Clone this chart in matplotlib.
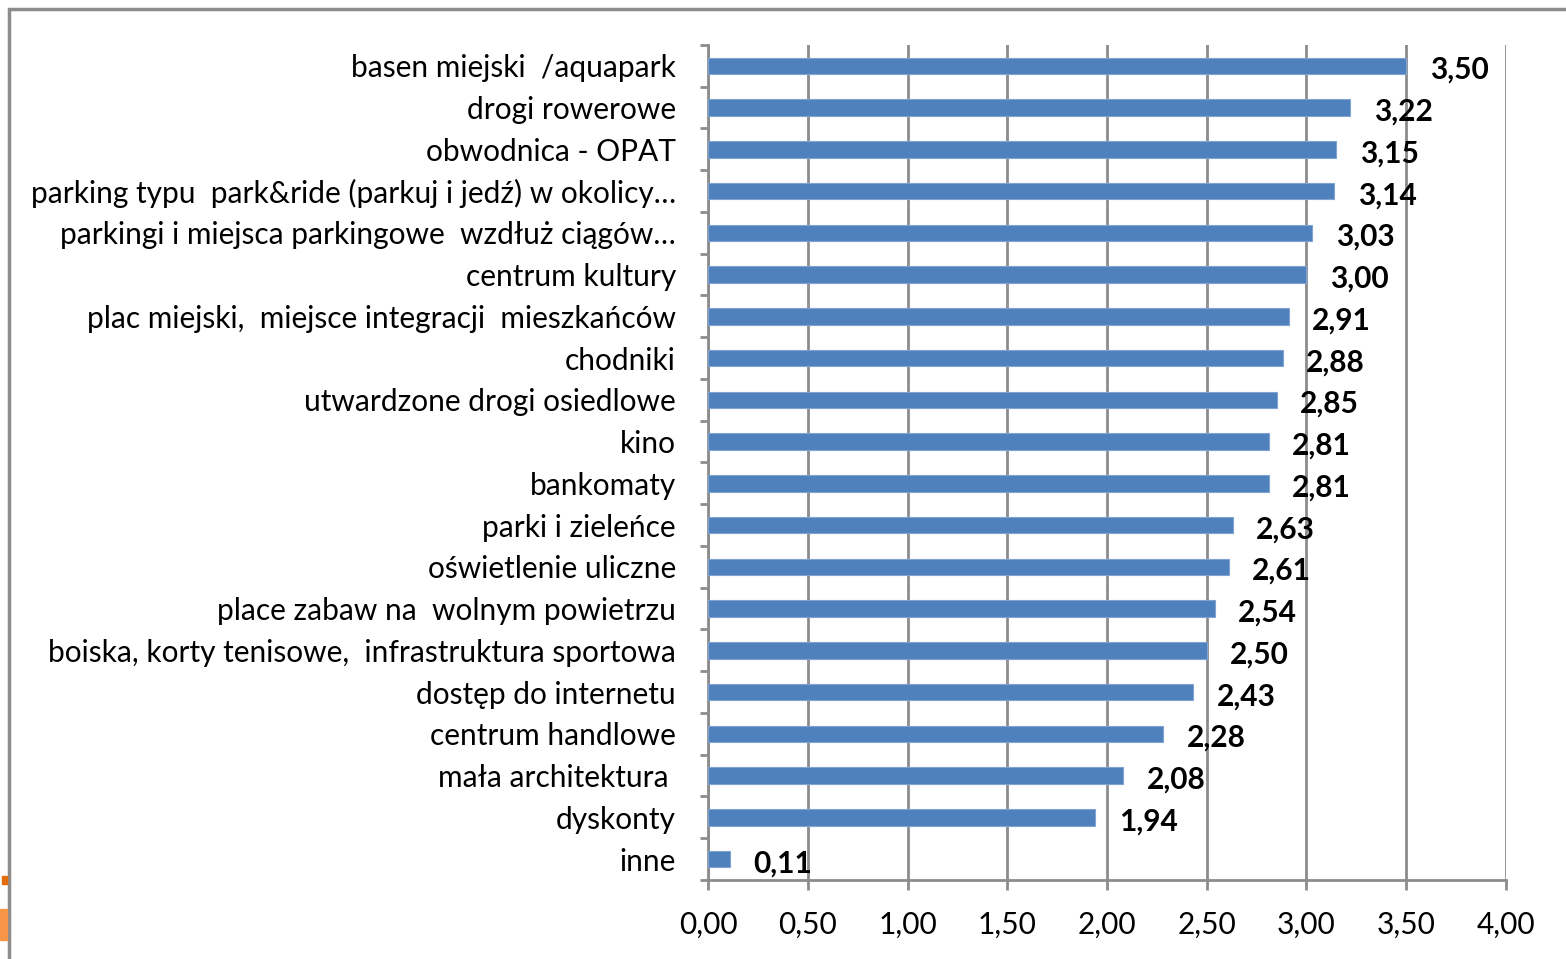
import matplotlib.pyplot as plt
from matplotlib.patches import Rectangle
from matplotlib.ticker import FuncFormatter

categories = [
    "basen miejski  /aquapark",
    "drogi rowerowe",
    "obwodnica - OPAT",
    "parking typu  park&ride (parkuj i jedź) w okolicy…",
    "parkingi i miejsca parkingowe  wzdłuż ciągów…",
    "centrum kultury",
    "plac miejski,  miejsce integracji  mieszkańców",
    "chodniki",
    "utwardzone drogi osiedlowe",
    "kino",
    "bankomaty",
    "parki i zieleńce",
    "oświetlenie uliczne",
    "place zabaw na  wolnym powietrzu",
    "boiska, korty tenisowe,  infrastruktura sportowa",
    "dostęp do internetu",
    "centrum handlowe",
    "mała architektura ",
    "dyskonty",
    "inne",
]
values = [3.50, 3.22, 3.15, 3.14, 3.03, 3.00, 2.91, 2.88, 2.85, 2.81,
          2.81, 2.63, 2.61, 2.54, 2.50, 2.43, 2.28, 2.08, 1.94, 0.11]
x_ticks = [0, 0.5, 1, 1.5, 2, 2.5, 3, 3.5, 4]

plt.rcParams['font.family'] = ['Lato', 'DejaVu Sans']

fig = plt.figure(figsize=(15.66, 9.59), dpi=100)
ax = fig.add_axes([708 / 1566, 1 - 880 / 959, 798 / 1566, 835 / 959])

# frame around the chart area
fig.patches.append(Rectangle((9 / 1566, -0.1), 1.2, 1 - 9 / 959 + 0.1,
                             transform=fig.transFigure, fill=False,
                             edgecolor='#8c8c8c', linewidth=2.5))
# small orange bits at the bottom left edge
fig.patches.append(Rectangle((2 / 1566, 1 - 884 / 959), 5 / 1566, 8 / 959,
                             transform=fig.transFigure, color='#e46c0a'))
fig.patches.append(Rectangle((0, 1 - 940 / 959), 7 / 1566, 31 / 959,
                             transform=fig.transFigure, color='#f79646'))

pos = list(range(len(categories)))
ax.barh(pos, values, height=0.4, color='#4f81bd', edgecolor='#7fa3d3',
        linewidth=0.8, zorder=3)
ax.set_ylim(len(categories) - 0.5, -0.5)
ax.set_xlim(0, 4)

for p, v in zip(pos, values):
    ax.annotate(f"{v:.2f}".replace('.', ','), (v, p), xytext=(17, -3),
                textcoords='offset points', va='center', ha='left',
                fontsize=21.5, fontweight='bold', zorder=4)

ax.set_yticks(pos)
ax.set_yticklabels(categories, fontsize=21.5)
ax.set_yticks([i - 0.5 for i in range(len(categories) + 1)], minor=True)
ax.tick_params(axis='y', which='major', length=0, pad=23)
ax.tick_params(axis='y', which='minor', length=6, width=2, color='#8c8c8c')

ax.set_xticks(x_ticks)
ax.xaxis.set_major_formatter(FuncFormatter(lambda x, _: f"{x:.2f}".replace('.', ',')))
ax.tick_params(axis='x', length=7, width=2, color='#8c8c8c', labelsize=21.5, pad=15)
ax.grid(axis='x', color='#8c8c8c', linewidth=2, zorder=0)

for s in ['top', 'right']:
    ax.spines[s].set_visible(False)
for s in ['left', 'bottom']:
    ax.spines[s].set_color('#8c8c8c')
    ax.spines[s].set_linewidth(2)

fig.savefig('out.png', dpi=100)
